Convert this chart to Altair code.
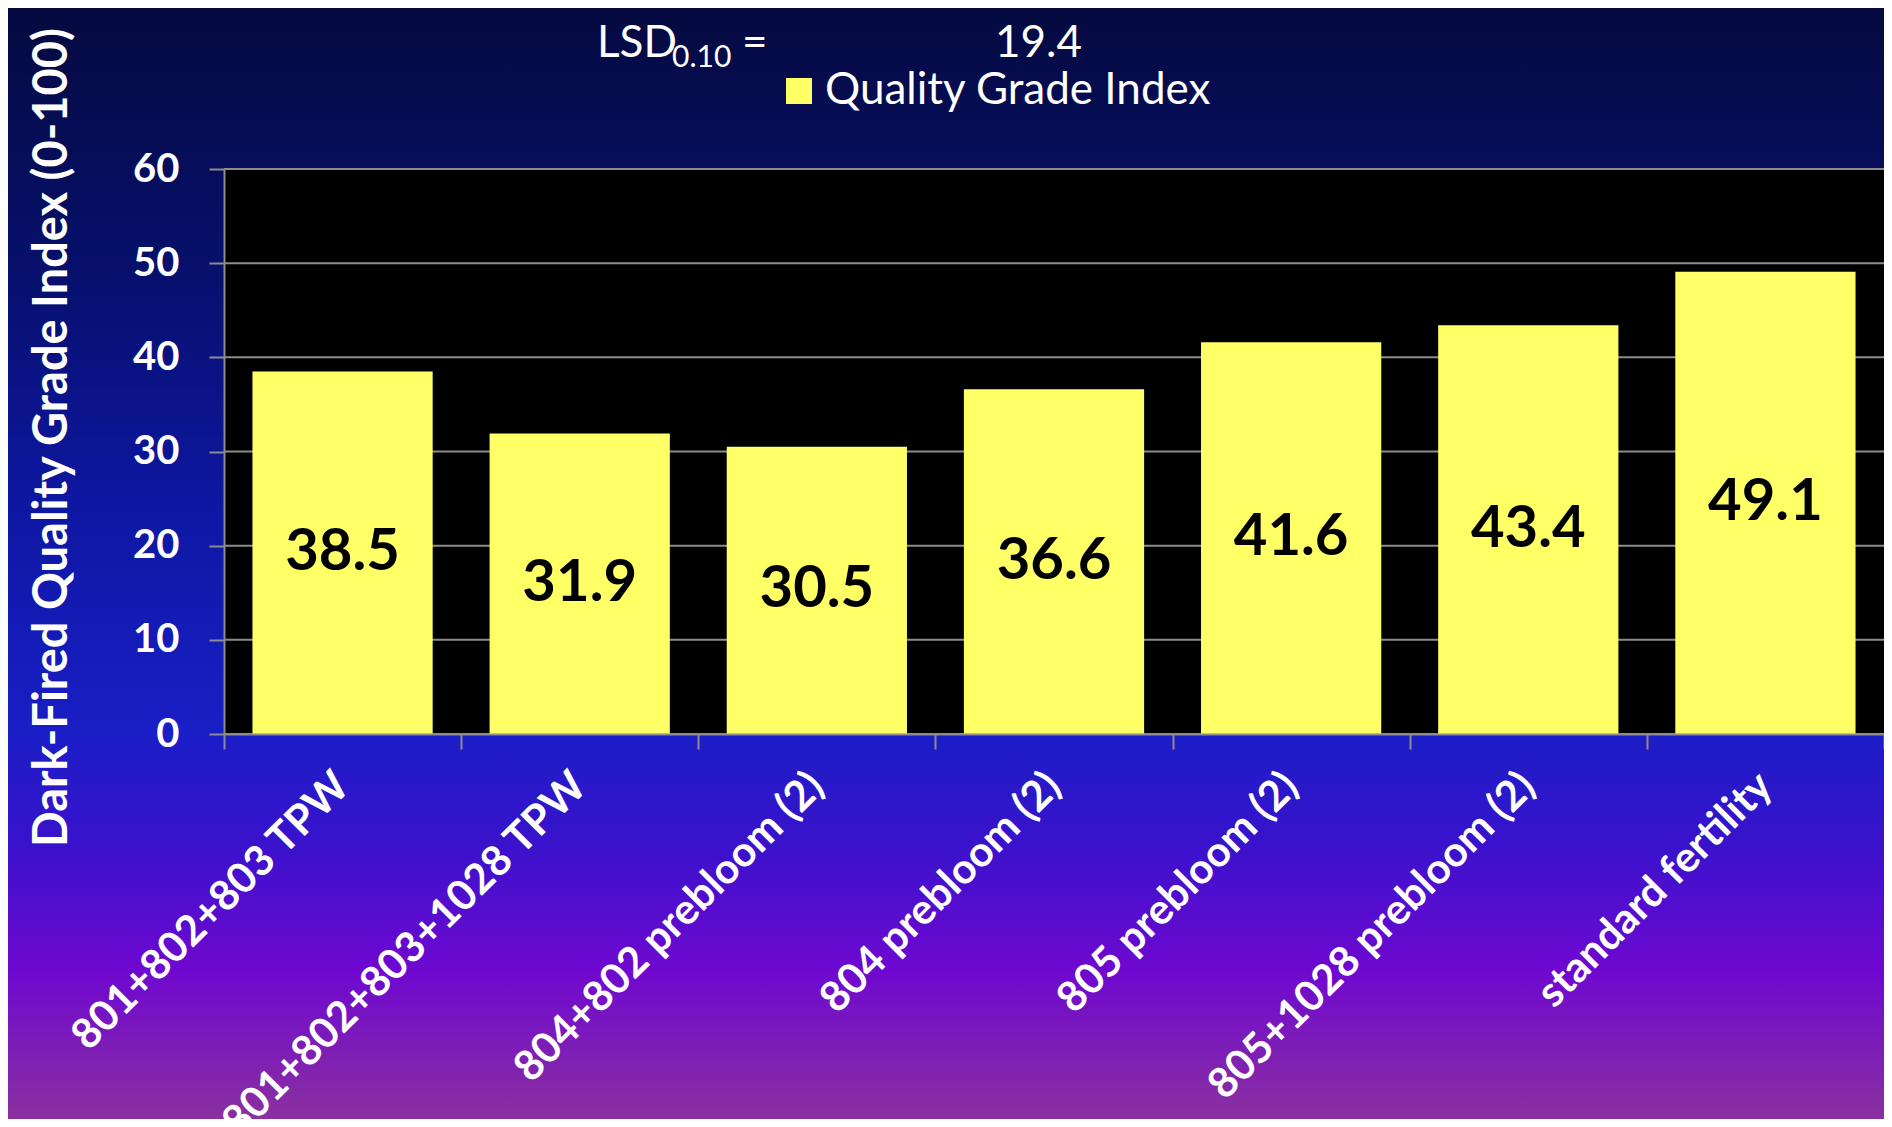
import altair as alt
import pandas as pd

# ---------------- data ----------------
treatments = [
    "801+802+803 TPW",
    "801+802+803+1028 TPW",
    "804+802 prebloom (2)",
    "804 prebloom (2)",
    "805 prebloom (2)",
    "805+1028 prebloom (2)",
    "standard fertility",
]
quality_index = [38.5, 31.9, 30.5, 36.6, 41.6, 43.4, 49.1]
series_name = "Quality Grade Index"
y_ticks = [0, 10, 20, 30, 40, 50, 60]
y_title = "Dark-Fired Quality Grade Index (0-100)"
lsd_label = "LSD"
lsd_subscript = "0.10"
lsd_value = "19.4"

# ---------------- layout / style ----------------
W, H = 1660, 565
PAD_L, PAD_T = 216, 161
TOTAL_W, TOTAL_H = 1876, 1111
GRID = "#8c8c8c"
BAR = "#FFFF66"
FONT = "Lato"

page_stops = [
    (0.00, "#050a40"),
    (0.25, "#07106e"),
    (0.45, "#0e17a2"),
    (0.65, "#1a1ec6"),
    (0.75, "#3a12cc"),
    (0.86, "#6e08d0"),
    (1.00, "#8a30a0"),
]
stops = []
for f, c in page_stops:
    o = (f * 1127 - 8) / TOTAL_H
    o = min(max(o, 0.0), 1.0)
    stops.append(alt.GradientStop(offset=o, color=c))

df = pd.DataFrame({"treatment": treatments, "value": quality_index, "series": series_name})
df["label"] = df["value"].map(lambda v: f"{v:.1f}")
grid_df = pd.DataFrame({"tick": y_ticks})
one = pd.DataFrame({"k": [0]})

yscale = alt.Scale(domain=[0, 60], nice=False, zero=True)
xscale = alt.Scale(paddingInner=0, paddingOuter=0)

y_axis = alt.Axis(
    values=y_ticks, title=y_title, titleFont=FONT, titleFontSize=47,
    titleFontWeight="bold", titleColor="white", titleAngle=270,
    titleX=-172, titleY=268, titleAlign="center", titleBaseline="middle",
    labelFont=FONT, labelFontWeight="bold", labelFontSize=40, labelColor="white",
    labelPadding=30, tickSize=15, tickColor=GRID, tickWidth=2,
    domainColor=GRID, domainWidth=2, grid=False, zindex=1,
)
x_axis = alt.Axis(
    title=None, labels=False, domainColor=GRID, domainWidth=2, tickColor=GRID,
    tickWidth=2, tickSize=15, tickBand="extent", zindex=1,
)

bg = alt.Chart(one).mark_rect(
    fill=alt.Gradient(gradient="linear", stops=stops, x1=0, x2=0, y1=0, y2=1)
).encode(
    x=alt.value(-PAD_L), x2=alt.value(TOTAL_W - PAD_L),
    y=alt.value(-PAD_T), y2=alt.value(TOTAL_H - PAD_T),
)

plot_bg = alt.Chart(one).mark_rect(color="black").encode(
    x=alt.value(0), x2=alt.value(W), y=alt.value(0), y2=alt.value(H)
)

grid = alt.Chart(grid_df).mark_rule(color=GRID, strokeWidth=2).encode(
    y=alt.Y("tick:Q", scale=yscale, axis=y_axis)
)

bars = alt.Chart(df).mark_bar(width=alt.RelativeBandSize(0.76)).encode(
    x=alt.X("treatment:N", sort=treatments, scale=xscale, axis=x_axis),
    y=alt.Y("value:Q", scale=yscale, axis=y_axis),
    color=alt.Color(
        "series:N", scale=alt.Scale(range=[BAR]),
        legend=alt.Legend(
            title=None, orient="none", legendX=553, legendY=-100, padding=0,
            symbolType="square", symbolSize=676, symbolStrokeWidth=0,
            labelFont=FONT, labelFontSize=44, labelColor="white", labelOffset=4,
            labelLimit=1000,
        ),
    ),
)

labels = alt.Chart(df).transform_calculate(mid="datum.value / 2").mark_text(
    font=FONT, fontWeight="bold", fontSize=58, color="black", baseline="middle"
).encode(
    x=alt.X("treatment:N", sort=treatments, scale=xscale, axis=x_axis),
    y=alt.Y("mid:Q", scale=yscale, axis=y_axis),
    text="label:N",
)

cat_labels = alt.Chart(df).mark_text(
    font=FONT, fontWeight="bold", fontSize=42, color="white", angle=315,
    align="right", baseline="top", dx=-16, dy=-4,
).encode(
    x=alt.X("treatment:N", sort=treatments, scale=xscale, axis=x_axis),
    y=alt.value(H + 23),
    text="treatment:N",
)


def note(txt, x, y, size):
    return alt.Chart(one).mark_text(
        text=txt, font=FONT, fontSize=size, color="white", align="left",
        baseline="alphabetic",
    ).encode(x=alt.value(x), y=alt.value(y))


notes = [
    note(lsd_label, 373, -112, 44),
    note(lsd_subscript, 448, -102, 30),
    note("=", 518, -112, 44),
    note(lsd_value, 771, -112, 44),
]

chart = alt.layer(bg, plot_bg, grid, bars, labels, cat_labels, *notes).properties(
    width=W, height=H,
    autosize=alt.AutoSizeParams(type="none"),
    padding={"left": PAD_L, "top": PAD_T, "right": TOTAL_W - PAD_L - W,
             "bottom": TOTAL_H - PAD_T - H},
).configure_view(stroke=None)

chart.save("out.html", embed_options={"renderer": "svg", "actions": False})
